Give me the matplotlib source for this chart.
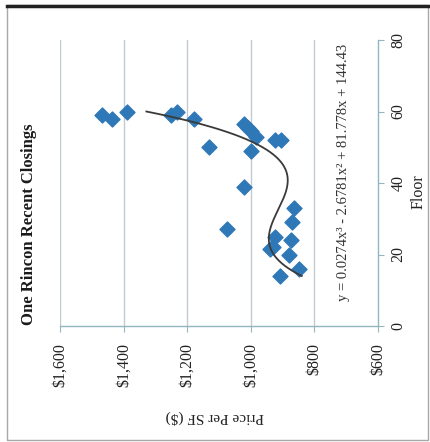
import numpy as np
import matplotlib
matplotlib.use("Agg")
import matplotlib.pyplot as plt
from matplotlib.patches import Rectangle
from matplotlib.lines import Line2D

# Data (floor, price per SF)
floors = [59, 58, 60, 59, 60, 58, 50, 56.5, 55.5, 54.5, 53, 52, 52, 49, 39,
          33, 29, 27, 25, 24, 22, 21.5, 20, 16, 14]
prices = [1469, 1437, 1388, 1250, 1231, 1180, 1130, 1020, 1010, 998, 985, 925,
          906, 998, 1020, 865, 872, 1076, 923, 875, 931, 940, 879, 849, 907]

# Polynomial trendline coefficients (as displayed on chart)
trend_coefs = [0.0274, -2.6781, 81.778, 144.43]
trend_range = [14, 60]

price_ticks = [1600, 1400, 1200, 1000, 800, 600]
price_labels = ["$1,600", "$1,400", "$1,200", "$1,000", "$800", "$600"]
floor_ticks = [0, 20, 40, 60, 80]

title = "One Rincon Recent Closings"
equation = "y = 0.0274x³ - 2.6781x² + 81.778x + 144.43"

W, H = 431, 442
fig = plt.figure(figsize=(W / 100, H / 100), dpi=100)
fig.patch.set_facecolor("white")
plt.rcParams['font.family'] = ['Liberation Serif', 'DejaVu Serif']

ax = fig.add_axes([60 / W, 1 - 326 / H, (378 - 60) / W, (326 - 40) / H])
ax.set_xlim(1600, 600)
ax.set_ylim(0, 80)

grid_c = "#c3cbd0"
axis_c = "#93b7bf"
for p in price_ticks[:-1]:
    ax.axvline(p, color=grid_c, lw=1.0, zorder=0)

for s in ["top", "left"]:
    ax.spines[s].set_visible(False)
ax.spines["bottom"].set_color(axis_c)
ax.spines["right"].set_color(axis_c)
ax.spines["bottom"].set_linewidth(1.0)
ax.spines["right"].set_linewidth(1.0)

ax.set_xticks(price_ticks)
ax.set_xticklabels(price_labels)
ax.yaxis.tick_right()
ax.set_yticks(floor_ticks)
ax.set_yticklabels([str(f) for f in floor_ticks])
ax.tick_params(axis="x", rotation=90, length=4, color=axis_c, pad=8,
               labelsize=11.5, labelcolor="#222222")
ax.tick_params(axis="y", rotation=90, length=4, color=axis_c, pad=5,
               labelsize=11.5, labelcolor="#222222")
for lab in ax.get_yticklabels():
    lab.set_va("center")

ax.scatter(prices, floors, marker="D", s=58, color="#2f78b7",
           edgecolors="#2f78b7", zorder=3)

fx = np.linspace(trend_range[0], trend_range[1], 200)
fy = np.polyval(trend_coefs, fx)
ax.plot(fy, fx, color="#3a3a3a", lw=1.3, zorder=4)

fig.text(29 / W, 1 - 224 / H, title, rotation=90, ha="center", va="center",
         fontsize=12, fontweight="bold", color="#1a1a1a")
fig.text(215 / W, 1 - 417 / H, "Price Per SF ($)", rotation=180,
         ha="center", va="center", fontsize=11, color="#222222")
fig.text(419 / W, 1 - 192 / H, "Floor", rotation=90, ha="center",
         va="center", fontsize=11.5, color="#222222")
fig.text(344 / W, 1 - 172 / H, equation, rotation=90, ha="center",
         va="center", fontsize=10.5, color="#333333")

# outer frame
fig.add_artist(Rectangle((7 / W, 1 - 440 / H), (428 - 7) / W, (440 - 5) / H,
                         transform=fig.transFigure, fill=False,
                         edgecolor="#a8a8a8", lw=1.0))
fig.add_artist(Line2D([7 / W, 430 / W], [1 - 6 / H, 1 - 6 / H],
                      transform=fig.transFigure, color="#222222", lw=2.5))

fig.savefig("out.png", dpi=100, facecolor="white")
